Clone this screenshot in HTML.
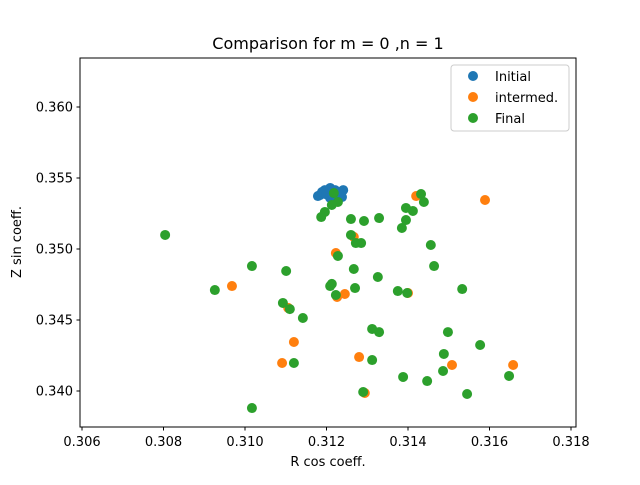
<!DOCTYPE html>
<html><head><meta charset="utf-8"><style>
body{margin:0;background:#fff;}
svg text{font-family:"DejaVu Sans","Liberation Sans",sans-serif;fill:#000;}
</style></head><body>
<svg id="chart" width="640" height="480" xmlns="http://www.w3.org/2000/svg">
<rect width="640" height="480" fill="#fff"/>
<text x="328" y="49" font-size="16" text-anchor="middle">Comparison for m = 0 ,n = 1</text>
<g id="marks"></g>
<rect x="80" y="58" width="496" height="369" fill="none" stroke="#000" stroke-width="1"/>
<g id="ticks"></g>
<text x="328" y="466" font-size="13" text-anchor="middle">R cos coeff.</text>
<text transform="translate(21,242) rotate(-90)" font-size="13" text-anchor="middle">Z sin coeff.</text>
<g>
<rect x="451" y="65" width="118" height="66" rx="3" fill="#fff" stroke="#ccc"/>
<circle cx="473" cy="76" r="5" fill="#1f77b4"/><text x="495" y="81" font-size="13">Initial</text>
<circle cx="473" cy="97" r="5" fill="#ff7f0e"/><text x="495" y="102" font-size="13">intermed.</text>
<circle cx="473" cy="118" r="5" fill="#2ca02c"/><text x="495" y="123" font-size="13">Final</text>
</g>
</svg>
<script>
const initX=[0.31179,0.31184,0.31196,0.31209,0.31221,0.31233,0.31241,0.31238,0.31209,0.31189,0.31223,0.31200,0.31230];
const initY=[0.35373,0.35380,0.35415,0.35430,0.35415,0.35401,0.35415,0.35366,0.35359,0.35401,0.35366,0.35385,0.35390];
const interX=[0.30968,0.31106,0.31120,0.31091,0.31226,0.31245,0.31223,0.31267,0.31280,0.31294,0.31400,0.31420,0.31589,0.31508,0.31658];
const interY=[0.34739,0.34585,0.34345,0.34197,0.34662,0.34683,0.34972,0.35085,0.34239,0.33986,0.34690,0.35373,0.35345,0.34183,0.34183];
const finalX=[0.30804,0.31017,0.30926,0.31017,0.31101,0.31093,0.31110,0.31142,0.31120,0.31209,0.31223,0.31270,0.31213,0.31228,0.31260,0.31272,0.31285,0.31260,0.31292,0.31329,0.31267,0.31326,0.31218,0.31228,0.31213,0.31196,0.31187,0.31432,0.31439,0.31395,0.31412,0.31395,0.31385,0.31456,0.31464,0.31375,0.31398,0.31533,0.31312,0.31329,0.31498,0.31577,0.31488,0.31486,0.31648,0.31388,0.31447,0.31290,0.31545,0.31312];
const finalY=[0.35099,0.34880,0.34711,0.33880,0.34845,0.34620,0.34577,0.34514,0.34197,0.34739,0.34676,0.34725,0.34754,0.34951,0.35099,0.35042,0.35042,0.35211,0.35197,0.35218,0.34859,0.34803,0.35394,0.35331,0.35310,0.35261,0.35225,0.35387,0.35331,0.35289,0.35268,0.35204,0.35148,0.35028,0.34880,0.34704,0.34690,0.34718,0.34437,0.34415,0.34415,0.34324,0.34261,0.34141,0.34106,0.34099,0.34070,0.33993,0.33979,0.34218];
const xTicks=[0.306,0.308,0.310,0.312,0.314,0.316,0.318];
const yTicks=[0.340,0.345,0.350,0.355,0.360];
const NS="http://www.w3.org/2000/svg";
const sx=v=>82+(v-0.306)*40750;
const sy=v=>391-(v-0.340)*14200;
const marks=document.getElementById('marks');
function series(xs,ys,color,name){
  for(let i=0;i<xs.length;i++){
    const c=document.createElementNS(NS,'circle');
    c.setAttribute('cx',sx(xs[i]));c.setAttribute('cy',sy(ys[i]));
    c.setAttribute('r',5);c.setAttribute('fill',color);
    
    
    marks.appendChild(c);
  }
}
series(initX,initY,'#1f77b4','initial-point');
series(interX,interY,'#ff7f0e','intermed-point');
series(finalX,finalY,'#2ca02c','final-point');
const tg=document.getElementById('ticks');
xTicks.forEach(t=>{
  const x=sx(t);
  const l=document.createElementNS(NS,'line');
  l.setAttribute('x1',x);l.setAttribute('x2',x);l.setAttribute('y1',427);l.setAttribute('y2',430.5);l.setAttribute('stroke','#000');
  
  
  tg.appendChild(l);
  const tx=document.createElementNS(NS,'text');
  tx.setAttribute('x',x);tx.setAttribute('y',446);tx.setAttribute('font-size','13');tx.setAttribute('text-anchor','middle');
  tx.textContent=t.toFixed(3);
  
  
  tg.appendChild(tx);
});
yTicks.forEach(t=>{
  const y=sy(t);
  const l=document.createElementNS(NS,'line');
  l.setAttribute('x1',76.5);l.setAttribute('x2',80);l.setAttribute('y1',y);l.setAttribute('y2',y);l.setAttribute('stroke','#000');
  
  
  tg.appendChild(l);
  const tx=document.createElementNS(NS,'text');
  tx.setAttribute('x',73);tx.setAttribute('y',y+4.5);tx.setAttribute('font-size','13');tx.setAttribute('text-anchor','end');
  tx.textContent=t.toFixed(3);
  
  
  tg.appendChild(tx);
});
</script>
</body></html>
